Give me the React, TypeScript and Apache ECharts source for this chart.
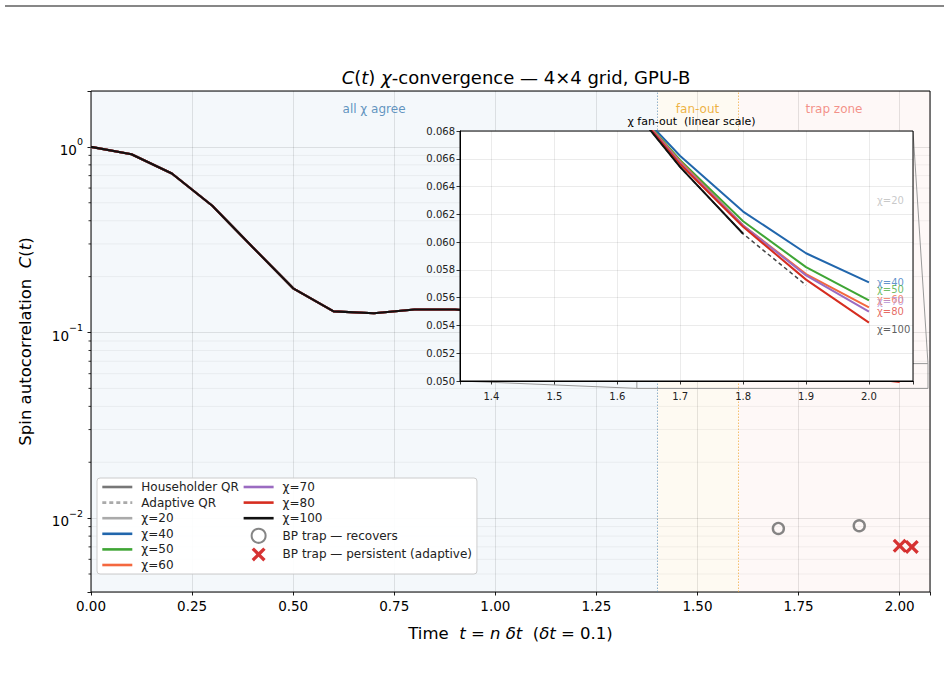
import React, { useEffect, useRef } from 'react';
import * as echarts from 'echarts';

// ---------------- data ----------------
const tValues = [0.0, 0.1, 0.2, 0.3, 0.4, 0.5, 0.6, 0.7, 0.8, 0.9, 1.0, 1.1, 1.2, 1.3, 1.4, 1.5, 1.6, 1.7, 1.8, 1.9, 2.0];
// shared curve (all chi agree) for t = 0.0 .. 1.6
const baseCurve = [1.0, 0.913, 0.719, 0.482, 0.288, 0.173, 0.130, 0.127, 0.133, 0.133, 0.128, 0.118, 0.106, 0.095, 0.086, 0.078, 0.071];
// fan-out tails for t = 1.7, 1.8, 1.9, 2.0
const tailChi20: number[] = [];
const tailChi40 = [0.0662, 0.0622, 0.0592, 0.0571];
const tailChi50 = [0.0659, 0.0615, 0.0582, 0.0558];
const tailChi60 = [0.0658, 0.0612, 0.0577, 0.0553];
const tailChi70 = [0.0657, 0.0612, 0.0576, 0.0550];
const tailChi80 = [0.0656, 0.0611, 0.0573, 0.0542];
const tailChi100 = [0.0654, 0.0606];
const tailChi100Adaptive = [0.0654, 0.0606, 0.0569];

const chiNames = ['χ=20', 'χ=40', 'χ=50', 'χ=60', 'χ=70', 'χ=80', 'χ=100'];
const chiTails = [tailChi20, tailChi40, tailChi50, tailChi60, tailChi70, tailChi80, tailChi100];
const chiColors = ['#aaaaaa', '#2166ac', '#3fa535', '#f4683f', '#9b6bc1', '#d62d20', '#111111'];
const chiLabelValues = [0.0630, 0.0571, 0.0566, 0.0559, 0.0557, 0.0550, 0.0537];
const chiLabelColors = ['#bbbbbb', '#3a78c0', '#4aad40', '#f26c4f', '#b08ed4', '#e0443a', '#333333'];

const trapRecoverT = [1.70, 1.90];
const trapRecoverC = [0.0088, 0.0091];
const trapPersistT = [2.00, 2.03];
const trapPersistC = [0.0071, 0.0070];

const regionNames = ['all χ agree', 'fan-out', 'trap zone'];
const regionStart = [0, 1.4, 1.6];
const regionEnd = [1.4, 1.6, 2.075];

const yMinorTicks = [0.005, 0.006, 0.007, 0.008, 0.009, 0.02, 0.03, 0.04, 0.05, 0.06, 0.07, 0.08, 0.09, 0.2, 0.3, 0.4, 0.5, 0.6, 0.7, 0.8, 0.9];

const insetXRange = [1.35, 2.07];
const insetYRange = [0.05, 0.068];

// ---------------- styling / layout ----------------
const FONT = 'DejaVu Sans';
const X_MAX = 2.075;
const MAIN = { left: 91, top: 91, width: 839, height: 501 };
const INSET = { left: 460, top: 131, width: 453, height: 250 };
const LABEL_T = 2.012;
const regionFill = ['rgba(70,130,180,0.06)', 'rgba(245,170,30,0.06)', 'rgba(220,60,40,0.035)'];
const regionText = ['rgba(70,130,180,0.85)', 'rgba(235,165,30,0.85)', 'rgba(240,110,100,0.75)'];

const pairs = (vals: number[]) => vals.map((v, i) => [tValues[i], v]);

export default function App() {
  const ref = useRef<HTMLDivElement>(null);
  useEffect(() => {
    if (!ref.current) return;
    const chart = echarts.init(ref.current, undefined, { renderer: 'svg' });

    const series: any[] = [];
    // background regions + boundary lines
    series.push({
      type: 'line', name: 'regions', xAxisIndex: 0, yAxisIndex: 0, z: 1, silent: true,
      data: [[0, 1]], symbol: 'none', lineStyle: { opacity: 0 },
      markArea: {
        silent: true,
        data: regionNames.map((n, i) => [
          {
            name: n, xAxis: regionStart[i],
            itemStyle: { color: regionFill[i] },
            label: { show: true, position: 'insideTop', distance: 12, color: regionText[i], fontSize: 12, fontFamily: FONT },
          },
          { xAxis: regionEnd[i] },
        ]),
      },
      markLine: {
        silent: true, symbol: 'none', label: { show: false },
        data: [
          { xAxis: regionStart[1], lineStyle: { color: 'rgba(70,130,180,0.6)', type: [1.5, 1.5], width: 1 } },
          { xAxis: regionStart[2], lineStyle: { color: 'rgba(240,170,50,0.7)', type: [1.5, 1.5], width: 1 } },
        ],
      },
    });
    // minor log grid + minor ticks
    series.push({
      type: 'custom', name: 'minor', xAxisIndex: 0, yAxisIndex: 0, z: 2, silent: true, clip: false,
      data: yMinorTicks.map((v) => [0, v]),
      encode: { x: 0, y: 1 },
      renderItem: (params: any, api: any) => {
        const v = api.value(1);
        const a = api.coord([0, v]);
        const b = api.coord([X_MAX, v]);
        return {
          type: 'group',
          children: [
            { type: 'line', shape: { x1: a[0], y1: a[1], x2: b[0], y2: b[1] }, style: { stroke: 'rgba(0,0,0,0.05)', lineWidth: 1 } },
            { type: 'line', shape: { x1: a[0] - 2.5, y1: a[1], x2: a[0], y2: a[1] }, style: { stroke: '#000', lineWidth: 0.8 } },
          ],
        };
      },
    });
    // legend proxies
    series.push({ type: 'line', name: 'Householder QR', xAxisIndex: 0, yAxisIndex: 0, data: [], symbol: 'none', color: '#777777', lineStyle: { width: 2.2, color: '#777777' } });
    series.push({ type: 'line', name: 'Adaptive QR', xAxisIndex: 0, yAxisIndex: 0, data: [], symbol: 'none', color: '#aaaaaa', lineStyle: { width: 1.6, color: '#aaaaaa', type: [4, 3] } });
    // adaptive chi=100 run (drawn under the solid lines)
    series.push({
      type: 'line', name: 'χ=100 adaptive', xAxisIndex: 0, yAxisIndex: 0, z: 3,
      data: pairs(baseCurve.concat(tailChi100Adaptive)), symbol: 'none',
      lineStyle: { width: 1.5, color: '#444', type: [4, 3] },
    });
    // main chi lines
    chiNames.forEach((n, i) => {
      series.push({
        type: 'line', name: n, xAxisIndex: 0, yAxisIndex: 0, z: 3,
        data: pairs(baseCurve.concat(chiTails[i])), symbol: 'none', color: chiColors[i],
        lineStyle: { width: 2.1, color: chiColors[i] },
      });
    });
    series.push({
      type: 'scatter', name: 'BP trap — recovers', xAxisIndex: 0, yAxisIndex: 0, z: 4,
      data: trapRecoverT.map((t, i) => [t, trapRecoverC[i]]),
      symbol: 'circle', symbolSize: 11,
      itemStyle: { color: 'rgba(255,255,255,0)', borderColor: '#666666', borderWidth: 2.4 },
    });
    series.push({
      type: 'scatter', name: 'BP trap — persistent (adaptive)', xAxisIndex: 0, yAxisIndex: 0, z: 4,
      data: trapPersistT.map((t, i) => [t, trapPersistC[i]]),
      symbol: 'path://M2,0L6,4L10,0L12,2L8,6L12,10L10,12L6,8L2,12L0,10L4,6L0,2Z', symbolSize: 14,
      itemStyle: { color: '#cc0000' },
    });
    // inset indicator rectangle
    series.push({
      type: 'line', name: 'indicator', xAxisIndex: 0, yAxisIndex: 0, z: 4, silent: true,
      data: [[insetXRange[0], insetYRange[0]]], symbol: 'none', lineStyle: { opacity: 0 },
      markArea: {
        silent: true,
        itemStyle: { color: 'rgba(0,0,0,0)', borderColor: '#999', borderWidth: 1 },
        data: [[{ coord: [insetXRange[0], insetYRange[0]] }, { coord: [insetXRange[1], insetYRange[1]] }]],
      },
    });
    // inset lines
    series.push({
      type: 'line', name: 'inset χ=100 adaptive', xAxisIndex: 1, yAxisIndex: 1, z: 12,
      data: pairs(baseCurve.concat(tailChi100Adaptive)), symbol: 'none',
      lineStyle: { width: 1.5, color: '#444', type: [4, 3] },
    });
    chiNames.forEach((n, i) => {
      series.push({
        type: 'line', name: 'inset ' + n, xAxisIndex: 1, yAxisIndex: 1, z: 12,
        data: pairs(baseCurve.concat(chiTails[i])), symbol: 'none',
        lineStyle: { width: 2, color: chiColors[i] },
      });
    });
    series.push({
      type: 'scatter', name: 'inset labels', xAxisIndex: 1, yAxisIndex: 1, z: 13, silent: true,
      symbol: 'circle', symbolSize: 1, itemStyle: { color: 'rgba(0,0,0,0)' },
      data: chiLabelValues.map((v, i) => ({
        value: [LABEL_T, v],
        label: { show: true, position: 'right', distance: 0, formatter: chiNames[i], color: chiLabelColors[i], fontSize: 10, fontFamily: FONT },
      })),
    });

    const lineLegendNames = ['Householder QR', 'Adaptive QR', ...chiNames];
    const legendData: any[] = lineLegendNames.map((n) => ({ name: n, itemStyle: { opacity: 0 }, lineStyle: { width: 2.6 } }));
    legendData.push({ name: 'BP trap — recovers' }, { name: 'BP trap — persistent (adaptive)' });

    const option: any = {
      animation: false,
      backgroundColor: '#ffffff',
      title: [
        {
          text: '{i|C}{n|(}{i|t}{n|) }{i|χ}{n|-convergence — 4×4 grid, GPU-B}',
          left: 511, top: 63, textAlign: 'center',
          textStyle: {
            fontWeight: 'normal',
            rich: {
              n: { fontSize: 18, fontFamily: FONT, fontWeight: 'normal', color: '#000' },
              i: { fontSize: 18, fontFamily: FONT, fontWeight: 'normal', fontStyle: 'italic', color: '#000' },
            },
          },
        },
        {
          text: 'χ fan-out  (linear scale)',
          left: INSET.left + INSET.width / 2, top: 111, textAlign: 'center',
          textStyle: { fontSize: 11, fontFamily: FONT, fontWeight: 'normal', color: '#000' },
        },
      ],
      grid: [
        { ...MAIN, show: true, backgroundColor: 'rgba(0,0,0,0)', borderColor: '#000', borderWidth: 1, z: 2 },
        { ...INSET, show: true, backgroundColor: '#ffffff', borderColor: '#000', borderWidth: 1, z: 10 },
      ],
      xAxis: [
        {
          type: 'value', gridIndex: 0, min: 0, max: X_MAX, interval: 0.25,
          name: '{r|Time  }{i|t}{r| = }{i|n δt}{r|  (}{i|δt}{r| = 0.1)}',
          nameLocation: 'middle', nameGap: 33,
          nameTextStyle: {
            rich: {
              r: { fontSize: 16.5, fontFamily: FONT, color: '#000' },
              i: { fontSize: 16.5, fontFamily: FONT, fontStyle: 'italic', color: '#000' },
            },
          },
          axisLine: { show: false },
          axisTick: { show: true, length: 3.5, lineStyle: { color: '#000', width: 0.9 } },
          axisLabel: {
            fontSize: 13.5, fontFamily: FONT, color: '#000', margin: 7,
            formatter: (v: number) => (Math.abs(v / 0.25 - Math.round(v / 0.25)) < 1e-6 ? v.toFixed(2) : ''),
          },
          splitLine: { show: true, lineStyle: { color: 'rgba(0,0,0,0.1)', width: 1 } },
        },
        {
          type: 'value', gridIndex: 1, min: insetXRange[0], max: insetXRange[1], minInterval: 0.1, maxInterval: 0.1, z: 11,
          axisLine: { show: true, lineStyle: { color: '#000' } },
          axisTick: { show: true, length: 3.5, lineStyle: { color: '#000', width: 0.8 } },
          axisLabel: {
            fontSize: 10, fontFamily: FONT, color: '#222', margin: 10,
            formatter: (v: number) => (Math.abs(v * 10 - Math.round(v * 10)) < 1e-6 ? v.toFixed(1) : ''),
          },
          splitLine: { show: true, lineStyle: { color: 'rgba(0,0,0,0.08)', width: 1 } },
        },
      ],
      yAxis: [
        {
          type: 'log', gridIndex: 0, min: 0.004, max: 2, logBase: 10,
          name: '{n|Spin autocorrelation  }{i|C}{n|(}{i|t}{n|)}',
          nameLocation: 'middle', nameGap: 57,
          nameTextStyle: {
            rich: {
              n: { fontSize: 16.5, fontFamily: FONT, color: '#000' },
              i: { fontSize: 16.5, fontFamily: FONT, fontStyle: 'italic', color: '#000' },
            },
          },
          axisLine: { show: false },
          axisTick: { show: true, length: 3.5, lineStyle: { color: '#000', width: 0.9 } },
          axisLabel: {
            margin: 8,
            formatter: (v: number) => {
              const l = Math.log10(v);
              const e = Math.round(l);
              if (Math.abs(l - e) > 1e-6) return '';
              return '{b|10}{s|' + (e < 0 ? '−' + -e : String(e)) + '}';
            },
            rich: {
              b: { fontSize: 13.5, fontFamily: FONT, color: '#000', lineHeight: 20, verticalAlign: 'bottom' },
              s: { fontSize: 9.5, fontFamily: FONT, color: '#000', lineHeight: 10, verticalAlign: 'top' },
            },
          },
          splitLine: { show: true, lineStyle: { color: 'rgba(0,0,0,0.1)', width: 1 } },
        },
        {
          type: 'value', gridIndex: 1, min: insetYRange[0], max: insetYRange[1], interval: 0.002, z: 11,
          axisLine: { show: true, lineStyle: { color: '#000' } },
          axisTick: { show: true, length: 3.5, lineStyle: { color: '#000', width: 0.8 } },
          axisLabel: { fontSize: 10, fontFamily: FONT, color: '#222', margin: 5, formatter: (v: number) => v.toFixed(3) },
          splitLine: { show: true, lineStyle: { color: 'rgba(0,0,0,0.08)', width: 1 } },
        },
      ],
      legend: {
        data: legendData,
        orient: 'vertical', left: 97, top: 478, height: 104,
        itemWidth: 30, itemHeight: 14, itemGap: 3.6,
        padding: [3, 5, 3, 4],
        backgroundColor: 'rgba(255,255,255,0.92)', borderColor: '#cccccc', borderWidth: 1, borderRadius: 3,
        textStyle: { fontSize: 12, fontFamily: FONT, color: '#222', padding: [0, 4, 0, 4] },
        selectedMode: false, z: 20,
      },
      series,
    };
    chart.setOption(option);

    // connectors between indicator rectangle and inset
    const insetLL = chart.convertToPixel({ xAxisIndex: 1, yAxisIndex: 1 } as any, [insetXRange[0], insetYRange[0]]) as number[];
    const insetUR = chart.convertToPixel({ xAxisIndex: 1, yAxisIndex: 1 } as any, [insetXRange[1], insetYRange[1]]) as number[];
    const rectLL = chart.convertToPixel({ xAxisIndex: 0, yAxisIndex: 0 } as any, [insetXRange[0], insetYRange[0]]) as number[];
    const rectUR = chart.convertToPixel({ xAxisIndex: 0, yAxisIndex: 0 } as any, [insetXRange[1], insetYRange[1]]) as number[];
    chart.setOption({
      graphic: [
        { type: 'line', z: 5, silent: true, shape: { x1: insetLL[0], y1: insetLL[1], x2: rectLL[0], y2: rectLL[1] }, style: { stroke: '#999', lineWidth: 1 } },
        { type: 'line', z: 5, silent: true, shape: { x1: insetUR[0], y1: insetUR[1], x2: rectUR[0], y2: rectUR[1] }, style: { stroke: '#999', lineWidth: 1 } },
        { type: 'line', z: 5, silent: true, shape: { x1: 5, y1: 6, x2: 944, y2: 6 }, style: { stroke: '#111', lineWidth: 1.2 } },
      ],
    });

    return () => chart.dispose();
  }, []);
  return <div ref={ref} style={{ position: 'fixed', left: 0, top: 0, width: 948, height: 678 }} />;
}
